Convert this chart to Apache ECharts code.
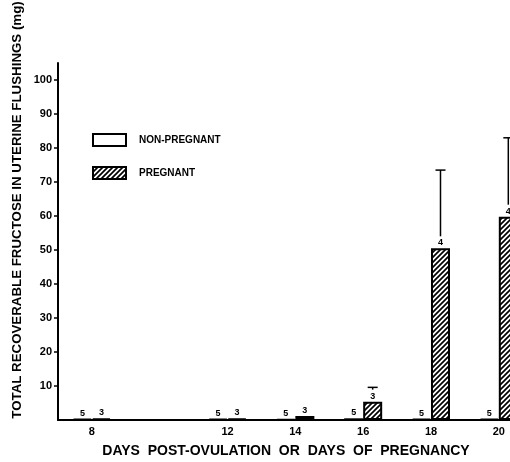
<!DOCTYPE html>
<html>
<head>
<meta charset="utf-8">
<script src="https://cdn.jsdelivr.net/npm/echarts@6/dist/echarts.min.js"></script>
<style>
  html, body { margin: 0; padding: 0; background: #fff; }
  #chart { width: 510px; height: 462px; }
</style>
</head>
<body>
<div id="chart"></div>
<script>
// values
var days = [8, 12, 14, 16, 18, 20];
var nonPregnant = [0.4, 0.4, 0.3, 0.5, 0.4, 0.4];
var pregnant = [0.5, 0.4, 1.2, 5.4, 50.5, 59.8];
var pregnantUpper = [null, null, null, 9.6, 73.5, 83];
var nNonPregnant = [5, 5, 5, 5, 5, 5];
var nPregnant = [3, 3, 3, 3, 4, 4];
var yTicks = [10, 20, 30, 40, 50, 60, 70, 80, 90, 100];

var BAR_W = 19;
var FONT = '"Liberation Sans", Arial, sans-serif';

// diagonal hatch pattern
function hatch() {
  var s = 5;
  var c = document.createElement('canvas');
  c.width = s; c.height = s;
  var ctx = c.getContext('2d');
  ctx.fillStyle = '#fff';
  ctx.fillRect(0, 0, s, s);
  ctx.strokeStyle = '#000';
  ctx.lineWidth = 1.7;
  ctx.beginPath();
  ctx.moveTo(-1, s + 1); ctx.lineTo(s + 1, -1);
  ctx.moveTo(-1, 1); ctx.lineTo(1, -1);
  ctx.moveTo(s - 1, s + 1); ctx.lineTo(s + 1, s - 1);
  ctx.stroke();
  return { image: c, repeat: 'repeat' };
}

var nonData = days.map(function (d, i) { return [d, nonPregnant[i]]; });
var pregData = days.map(function (d, i) { return [d, pregnant[i]]; });
var errData = [];
days.forEach(function (d, i) {
  if (pregnantUpper[i] != null) errData.push([d, pregnant[i], pregnantUpper[i]]);
});

var myChart = echarts.init(document.getElementById('chart'));
var option = {
  animation: false,
  backgroundColor: '#fff',
  grid: { left: 58, right: 0, top: 63, bottom: 42 },
  legend: {
    orient: 'vertical',
    left: 92,
    top: 133,
    padding: 0,
    itemWidth: 33,
    itemHeight: 12,
    itemGap: 19,
    icon: 'rect',
    data: ['NON-PREGNANT', 'PREGNANT'],
    textStyle: { fontFamily: FONT, fontSize: 10, fontWeight: 'bold', color: '#000', padding: [0, 0, 0, 8] },
    itemStyle: { borderColor: '#000', borderWidth: 2 }
  },
  xAxis: {
    type: 'value',
    min: 7,
    max: 20.33,
    splitLine: { show: false },
    axisTick: { show: false },
    axisLine: { lineStyle: { color: '#000', width: 2 } },
    axisLabel: {
      customValues: days,
      color: '#000',
      fontFamily: FONT,
      fontWeight: 'bold',
      fontSize: 11,
      margin: 6
    }
  },
  yAxis: {
    type: 'value',
    min: 0,
    max: 105,
    splitLine: { show: false },
    axisLine: { show: true, lineStyle: { color: '#000', width: 2 } },
    axisTick: { show: true, customValues: yTicks, length: 4, lineStyle: { color: '#000', width: 1.5 } },
    axisLabel: {
      customValues: yTicks,
      color: '#000',
      fontFamily: FONT,
      fontWeight: 'bold',
      fontSize: 11,
      margin: 6
    }
  },
  graphic: [
    {
      type: 'text',
      x: 17, y: 210,
      rotation: Math.PI / 2,
      style: {
        text: 'TOTAL RECOVERABLE FRUCTOSE IN UTERINE FLUSHINGS (mg)',
        font: 'bold 13.3px ' + FONT,
        fill: '#000',
        align: 'center',
        verticalAlign: 'middle'
      }
    },
    {
      type: 'text',
      x: 286, y: 451,
      style: {
        text: 'DAYS  POST-OVULATION  OR  DAYS  OF  PREGNANCY',
        font: 'bold 14px ' + FONT,
        fill: '#000',
        align: 'center',
        verticalAlign: 'middle'
      }
    }
  ],
  series: [
    {
      name: 'NON-PREGNANT',
      type: 'bar',
      data: nonData,
      barWidth: BAR_W,
      barGap: '0%',
      itemStyle: { color: '#fff', borderColor: '#000', borderWidth: 1.5 },
      label: {
        show: true,
        position: 'top',
        distance: 1,
        fontFamily: FONT,
        fontWeight: 'bold',
        fontSize: 9,
        color: '#000',
        formatter: function (p) { return nNonPregnant[p.dataIndex]; }
      }
    },
    {
      name: 'PREGNANT',
      type: 'bar',
      data: pregData,
      barWidth: BAR_W,
      barGap: '0%',
      itemStyle: { color: hatch(), borderColor: '#000', borderWidth: 2 },
      label: {
        show: true,
        position: 'top',
        distance: 1,
        fontFamily: FONT,
        fontWeight: 'bold',
        fontSize: 9,
        color: '#000',
        formatter: function (p) { return nPregnant[p.dataIndex]; }
      }
    },
    {
      name: 'err',
      type: 'custom',
      data: errData,
      z: 5,
      clip: false,
      renderItem: function (params, api) {
        var top = api.coord([api.value(0), api.value(2)]);
        var bar = api.coord([api.value(0), api.value(1)]);
        var x = top[0] + BAR_W / 2;
        var y0 = Math.max(bar[1] - 12, top[1]);
        return {
          type: 'group',
          children: [
            { type: 'line', shape: { x1: x, y1: y0, x2: x, y2: top[1] }, style: { stroke: '#000', lineWidth: 1.5 } },
            { type: 'line', shape: { x1: x - 5, y1: top[1], x2: x + 5, y2: top[1] }, style: { stroke: '#000', lineWidth: 1.5 } }
          ]
        };
      }
    }
  ]
};
myChart.setOption(option);
</script>
</body>
</html>
